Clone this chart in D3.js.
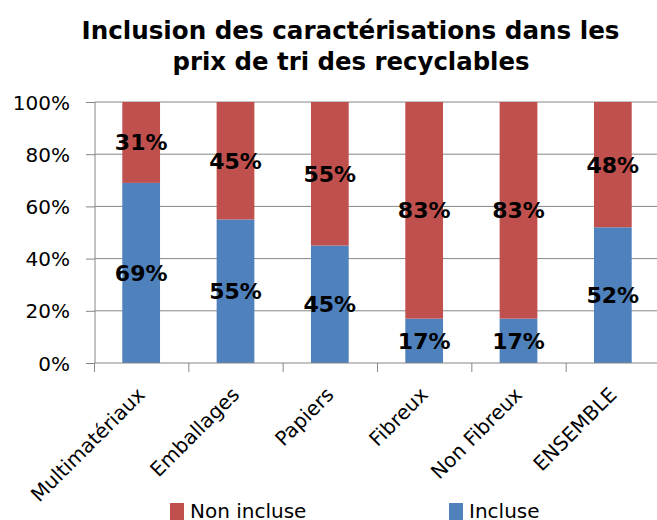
<!DOCTYPE html>
<html>
  <head>
    <meta charset="utf-8">
    <script src="https://d3js.org/d3.v7.min.js"></script>
    <style>
      body { margin: 0; background: #fff; }
      text { font-family: "DejaVu Sans", Verdana, sans-serif; }
    </style>
  </head>
  <body>
    <div id="chart"></div>

    <script>
      const categories = ["Multimatériaux", "Emballages", "Papiers", "Fibreux", "Non Fibreux", "ENSEMBLE"];
      const incluse = [69, 55, 45, 17, 17, 52];
      const nonIncluse = [31, 45, 55, 83, 83, 48];
      const yTicks = [0, 20, 40, 60, 80, 100];
      const titleLines = ["Inclusion des caractérisations dans les", "prix de tri des recyclables"];

      const width = 657;
      const height = 520;
      const red = "#C0504D";
      const blue = "#4F81BD";

      const data = categories.map((c, i) => ({ cat: c, inc: incluse[i], non: nonIncluse[i] }));

      const svg = d3.select("#chart")
        .append("svg")
        .attr("width", width)
        .attr("height", height);

      const xScale = d3.scaleBand()
        .domain(categories)
        .range([94, 660])
        .paddingInner(0.6)
        .paddingOuter(0.3);

      const yScale = d3.scaleLinear()
        .domain([0, 100])
        .range([363, 102]);

      // gridlines
      svg.append("g")
        .selectAll("line")
        .data(yTicks.filter(d => d > 0))
        .enter()
        .append("line")
        .attr("x1", 95)
        .attr("x2", width)
        .attr("y1", d => yScale(d))
        .attr("y2", d => yScale(d))
        .attr("stroke", "#868686")
        .attr("stroke-width", 1);

      // stacked bars
      const bars = svg.append("g");
      bars.selectAll(".inc")
        .data(data)
        .enter()
        .append("rect")
        .attr("x", d => xScale(d.cat))
        .attr("width", xScale.bandwidth())
        .attr("y", d => yScale(d.inc))
        .attr("height", d => yScale(0) - yScale(d.inc))
        .attr("fill", blue);
      bars.selectAll(".non")
        .data(data)
        .enter()
        .append("rect")
        .attr("x", d => xScale(d.cat))
        .attr("width", xScale.bandwidth())
        .attr("y", d => yScale(d.inc + d.non))
        .attr("height", d => yScale(d.inc) - yScale(d.inc + d.non))
        .attr("fill", red);

      // y axis
      const yAxis = svg.append("g")
        .attr("transform", "translate(95,0)")
        .call(d3.axisLeft(yScale).tickValues(yTicks).tickFormat(d => d + "%").tickSize(9).tickPadding(16));
      yAxis.selectAll("line, path").attr("stroke", "#868686");
      yAxis.select(".domain").attr("d", "M0,102V363");
      yAxis.selectAll("text").style("font-size", "20px").attr("fill", "#000").attr("dy", "0.35em");

      // x axis with ticks between categories
      const boundaries = d3.range(categories.length + 1).map(i => 94.5 + i * xScale.step());
      svg.append("line")
        .attr("x1", 95).attr("x2", width)
        .attr("y1", 363).attr("y2", 363)
        .attr("stroke", "#868686");
      svg.append("g")
        .selectAll("line")
        .data(boundaries)
        .enter()
        .append("line")
        .attr("x1", d => d).attr("x2", d => d)
        .attr("y1", 363).attr("y2", 372)
        .attr("stroke", "#868686");

      svg.append("g")
        .selectAll("text")
        .data(categories)
        .enter()
        .append("text")
        .attr("transform", d => `translate(${xScale(d) + xScale.bandwidth() / 2 + 5},396) rotate(-45)`)
        .attr("text-anchor", "end")
        .style("font-size", "20px")
        .text(d => d);

      // data labels
      const labels = svg.append("g")
        .style("font-size", "22px")
        .style("font-weight", "bold")
        .attr("text-anchor", "middle");
      labels.selectAll(".li")
        .data(data)
        .enter()
        .append("text")
        .attr("x", d => xScale(d.cat) + xScale.bandwidth() / 2)
        .attr("y", d => yScale(d.inc / 2))
        .attr("dy", "0.36em")
        .text(d => d.inc + "%");
      labels.selectAll(".ln")
        .data(data)
        .enter()
        .append("text")
        .attr("x", d => xScale(d.cat) + xScale.bandwidth() / 2)
        .attr("y", d => yScale(d.inc + d.non / 2))
        .attr("dy", "0.36em")
        .text(d => d.non + "%");

      // title
      svg.append("text")
        .attr("x", 350.5)
        .attr("y", 39)
        .attr("text-anchor", "middle")
        .attr("textLength", 538)
        .attr("lengthAdjust", "spacingAndGlyphs")
        .style("font-family", "'DejaVu Sans Condensed', 'DejaVu Sans', sans-serif")
        .style("font-size", "25px")
        .style("font-weight", "bold")
        .text(titleLines[0]);
      svg.append("text")
        .attr("x", 351)
        .attr("y", 70)
        .attr("text-anchor", "middle")
        .attr("textLength", 357)
        .attr("lengthAdjust", "spacingAndGlyphs")
        .style("font-family", "'DejaVu Sans Condensed', 'DejaVu Sans', sans-serif")
        .style("font-size", "25px")
        .style("font-weight", "bold")
        .text(titleLines[1]);

      // legend
      const legendItems = [
        { name: "Non incluse", color: red, x: 170 },
        { name: "Incluse", color: blue, x: 449 }
      ];
      const legend = svg.append("g");
      legend.selectAll("rect")
        .data(legendItems)
        .enter()
        .append("rect")
        .attr("x", d => d.x)
        .attr("y", 503)
        .attr("width", 14)
        .attr("height", 17)
        .attr("fill", d => d.color);
      legend.selectAll("text")
        .data(legendItems)
        .enter()
        .append("text")
        .attr("x", d => d.x + 20)
        .attr("y", 518)
        .style("font-size", "20px")
        .text(d => d.name);
    </script>
  </body>
</html>
